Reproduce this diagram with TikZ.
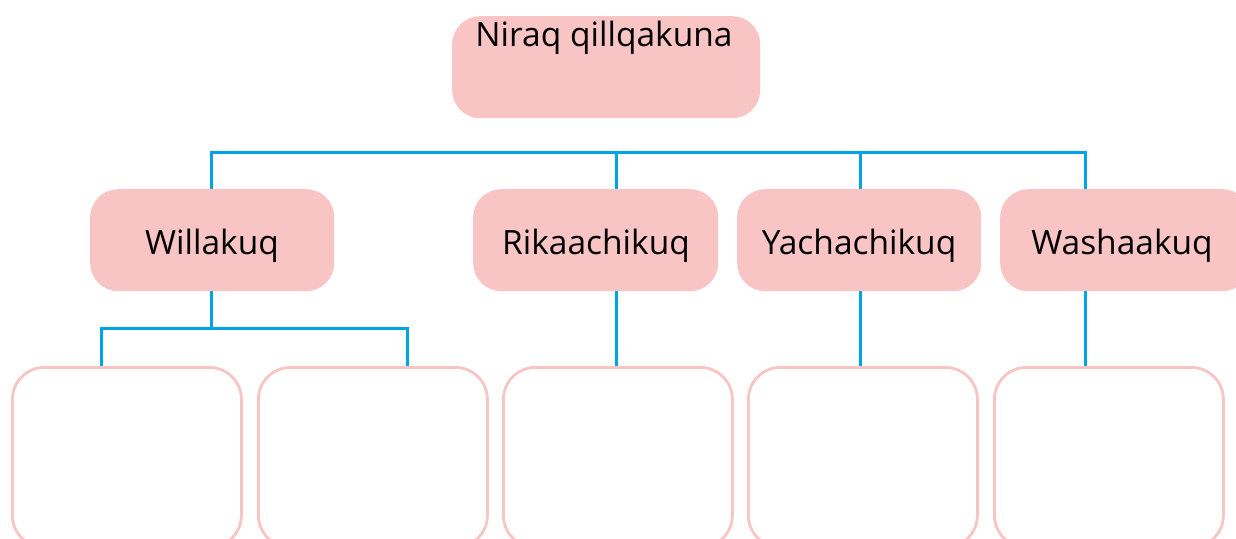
\documentclass[tikz,border=0pt]{standalone}
\usepackage{fontspec}
\setmainfont{Open Sans}
\definecolor{pinkfill}{HTML}{F8C4C4}
\definecolor{linkblue}{HTML}{00A3E6}
\begin{document}
\begin{tikzpicture}[x=1pt,y=-1pt,
  box/.style={fill=pinkfill, draw=none, rounded corners=28pt, anchor=north west, inner sep=0pt},
  leaf/.style={draw=pinkfill, fill=white, line width=2.8pt, rounded corners=32pt, anchor=north west, inner sep=0pt, minimum width=229pt, minimum height=180pt},
  link/.style={draw=linkblue, line width=3pt},
  lbl/.style={font=\fontsize{33.5}{40}\selectfont, anchor=base, inner sep=0pt}]
\useasboundingbox (0,0) rectangle (1236,538);
% boxes
\node[box, minimum width=308pt, minimum height=102pt] (top) at (452,16) {};
\node[box, minimum width=244pt, minimum height=102pt] (will) at (90,189) {};
\node[box, minimum width=245pt, minimum height=102pt] (rik) at (473,189) {};
\node[box, minimum width=244pt, minimum height=102pt] (yach) at (737,189) {};
\node[box, minimum width=250pt, minimum height=102pt] (wash) at (1000,189) {};
\node[leaf] (leafA) at (11,366) {};
\node[leaf] (leafB) at (257,366) {};
\node[leaf] (leafC) at (502,366) {};
\node[leaf] (leafD) at (747,366) {};
\node[leaf] (leafE) at (993,366) {};
% labels
\node[lbl] (ttop) at (604,46) {Niraq qillqakuna};
\node[lbl] (twill) at (212,254) {Willakuq};
\node[lbl] (trik) at (596,254) {Rikaachikuq};
\node[lbl] (tyach) at (859,254) {Yachachikuq};
\node[lbl] (twash) at (1122,254) {Washaakuq};
% connectors
\coordinate (b1) at (211,152);
\coordinate (b2) at (616,152);
\coordinate (b3) at (860,152);
\coordinate (b4) at (1085,152);
\draw[link] (b1 |- will.north) -- (b1) -- (b4) -- (b4 |- wash.north);
\draw[link] (b2) -- (b2 |- rik.north);
\draw[link] (b3) -- (b3 |- yach.north);
\coordinate (w0) at (211,328);
\coordinate (w1) at (101,328);
\coordinate (w2) at (407,328);
\draw[link] (w0 |- will.south) -- (w0);
\draw[link] (w1 |- leafA.north) -- (w1) -- (w2) -- (w2 |- leafB.north);
\draw[link] (b2 |- rik.south) -- (b2 |- leafC.north);
\draw[link] (b3 |- yach.south) -- (b3 |- leafD.north);
\draw[link] (b4 |- wash.south) -- (b4 |- leafE.north);
\end{tikzpicture}
\end{document}
